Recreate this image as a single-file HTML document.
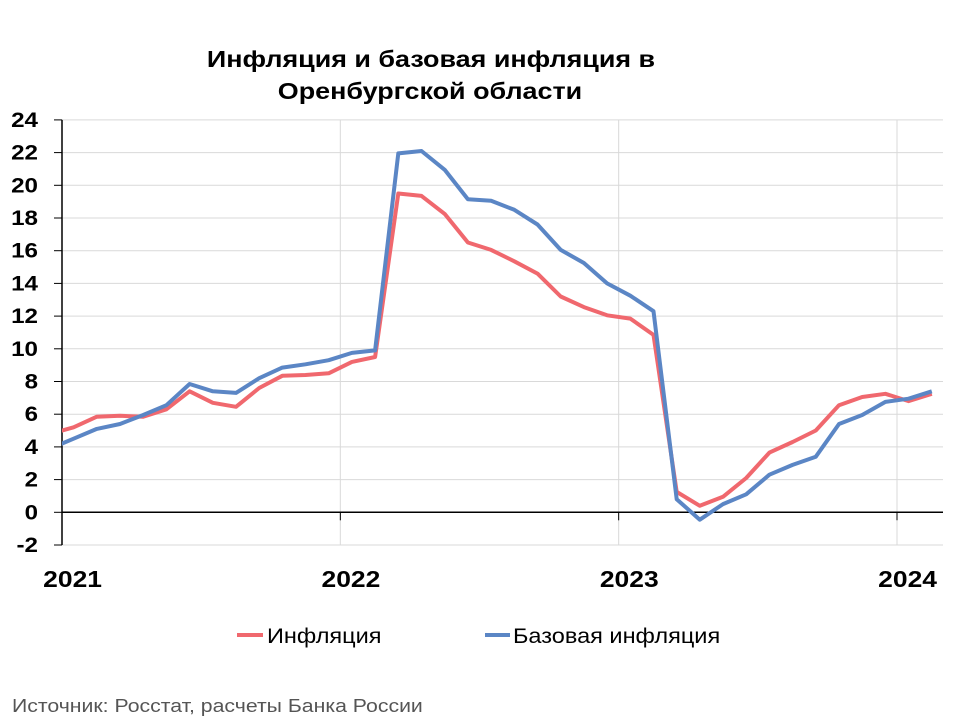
<!DOCTYPE html>
<html><head><meta charset="utf-8"><style>
body{margin:0;background:#fff;font-family:"Liberation Sans",Arial,sans-serif}
</style></head><body>
<svg width="960" height="720" viewBox="0 0 960 720" xmlns="http://www.w3.org/2000/svg" font-family="Liberation Sans, Arial, sans-serif">
<text class="st" data-f="1.17" x="431" y="67" text-anchor="middle" font-size="23" font-weight="bold">Инфляция и базовая инфляция в</text>
<text class="st" data-f="1.17" x="430" y="99" text-anchor="middle" font-size="23" font-weight="bold">Оренбургской области</text>
<g id="grid"></g><g id="axes"></g>
<defs><clipPath id="pc"><rect x="62" y="100" width="882" height="460"/></clipPath></defs>
<g id="series" clip-path="url(#pc)"></g>
<g>
<line x1="237" y1="635" x2="263" y2="635" stroke="#f0686e" stroke-width="4"/>
<text class="st" data-f="1.12" x="267" y="643" font-size="21">Инфляция</text>
<line x1="485" y1="635" x2="510" y2="635" stroke="#5b86c5" stroke-width="4"/>
<text class="st" data-f="1.12" x="513" y="643" font-size="21">Базовая инфляция</text>
</g>
<text class="st" data-f="1.18" x="12" y="712" font-size="18" fill="#555">Источник: Росстат, расчеты Банка России</text>
</svg>
<script>
const months = ["2020-12","2021-01","2021-02","2021-03","2021-04","2021-05","2021-06","2021-07","2021-08","2021-09","2021-10","2021-11","2021-12","2022-01","2022-02","2022-03","2022-04","2022-05","2022-06","2022-07","2022-08","2022-09","2022-10","2022-11","2022-12","2023-01","2023-02","2023-03","2023-04","2023-05","2023-06","2023-07","2023-08","2023-09","2023-10","2023-11","2023-12","2024-01","2024-02"];
const inflation = [4.8,5.2,5.85,5.9,5.85,6.3,7.4,6.7,6.45,7.6,8.35,8.4,8.5,9.2,9.5,19.5,19.35,18.25,16.5,16.05,15.35,14.6,13.2,12.55,12.05,11.85,10.85,1.25,0.4,0.95,2.1,3.65,4.3,5.0,6.55,7.05,7.25,6.8,7.25];
const coreInflation = [3.9,4.5,5.1,5.4,5.95,6.55,7.85,7.4,7.3,8.2,8.85,9.05,9.3,9.75,9.9,21.95,22.1,20.95,19.15,19.05,18.5,17.6,16.05,15.25,14.0,13.25,12.3,0.8,-0.45,0.5,1.1,2.3,2.9,3.4,5.4,5.95,6.75,6.95,7.4];
const yTicks = [-2,0,2,4,6,8,10,12,14,16,18,20,22,24];
const years = ["2021","2022","2023","2024"];
const NS="http://www.w3.org/2000/svg";
const L=62,R=943,MPX=(897-62)/36,Y0=512.3,UPX=16.35;
const xm=i=>L+(i-0.5)*MPX;
const y=v=>Y0-v*UPX;
function mk(t,a,p){const e=document.createElementNS(NS,t);for(const k in a)e.setAttribute(k,a[k]);p.appendChild(e);return e;}
const grid=document.getElementById('grid'),axes=document.getElementById('axes'),ser=document.getElementById('series');
yTicks.forEach(v=>{
 if(v!==0){const g=mk('line',{x1:L,x2:R,y1:y(v),y2:y(v),stroke:'#d9d9d9','stroke-width':1},grid);
 
 }
 const t=mk('line',{x1:L-8,x2:L,y1:y(v),y2:y(v),stroke:'#000','stroke-width':1},axes);
 
 
 const lb=mk('text',{x:38,y:y(v)+7,'text-anchor':'end','font-size':21,'font-weight':'bold','class':'st','data-f':'1.15'},axes);
 lb.textContent=v;
 
 
});
years.forEach((yr,k)=>{
 const xt=L+k*12*MPX;
 if(k>0){const g=mk('line',{x1:xt,x2:xt,y1:y(24),y2:y(-2),stroke:'#d9d9d9','stroke-width':1},grid);
 
 
 const t=mk('line',{x1:xt,x2:xt,y1:Y0,y2:Y0+8,stroke:'#000','stroke-width':1},axes);
 
 }
 const lb=mk('text',{x:xt+MPX/2-1,y:587,'text-anchor':'middle','font-size':23,'font-weight':'bold','class':'st','data-f':'1.15'},axes);
 lb.textContent=yr;
 
 
});
const ya=mk('line',{x1:L,x2:L,y1:y(24),y2:y(-2),stroke:'#000','stroke-width':1.5},axes);


const xa=mk('line',{x1:L,x2:R,y1:Y0,y2:Y0,stroke:'#000','stroke-width':1.5},axes);


function line(vals,col,name){
 const p=mk('polyline',{points:vals.map((v,i)=>xm(i).toFixed(1)+','+y(v).toFixed(1)).join(' '),fill:'none',stroke:col,'stroke-width':4,'stroke-linejoin':'round'},ser);
 
 
}
line(inflation,'#f0686e','inflation-line');
line(coreInflation,'#5b86c5','core-inflation-line');
document.querySelectorAll('text.st').forEach(t=>{
 const w=t.getComputedTextLength()*parseFloat(t.getAttribute('data-f'));
 t.setAttribute('textLength',w.toFixed(1));
 t.setAttribute('lengthAdjust','spacingAndGlyphs');
});
</script>
</body></html>
